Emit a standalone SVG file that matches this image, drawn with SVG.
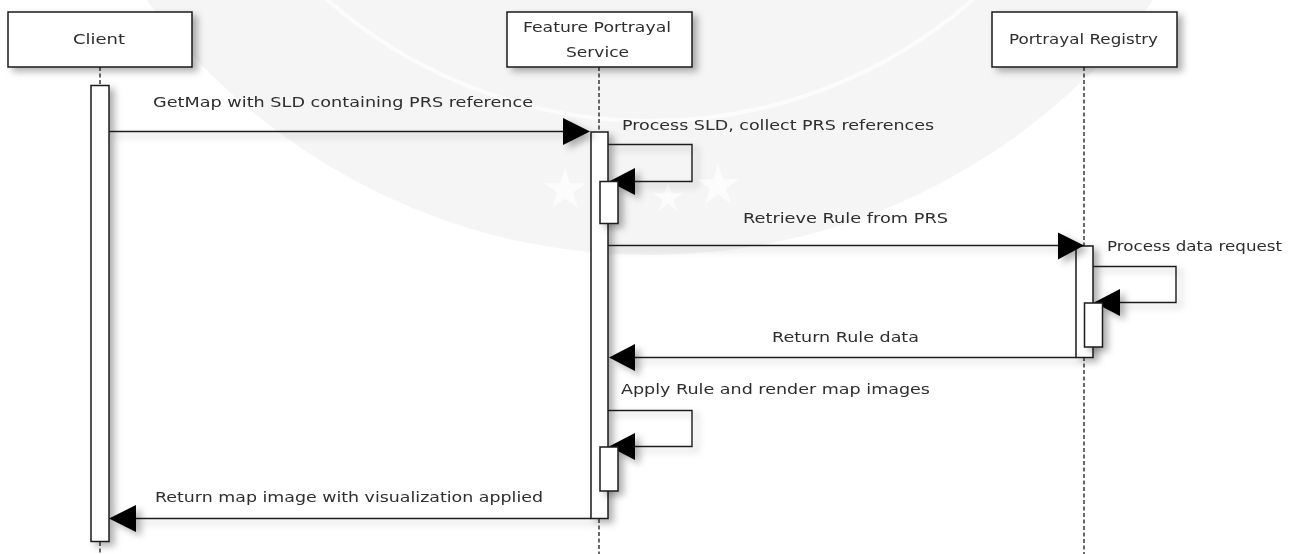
<svg xmlns="http://www.w3.org/2000/svg" width="1294" height="554" viewBox="0 0 1294 554">
<style>
.box,.act{fill:#fff;stroke:#1a1a1a;stroke-width:1.5;filter:url(#sh)}
.life{fill:none;stroke:#1a1a1a;stroke-width:1.3;stroke-dasharray:4 2.500}
.msg{fill:none;stroke:#1a1a1a;stroke-width:1.4;filter:url(#sh)}
.head{fill:#000;filter:url(#sh)}
text{font-family:"DejaVu Sans","Liberation Sans",sans-serif;font-size:14.500px;fill:#2e2e2e;filter:url(#soft)}
.star{fill:#fcfcfc}
</style>
<defs>
<filter id="sh" filterUnits="userSpaceOnUse" x="0" y="0" width="1294" height="554">
<feDropShadow dx="5" dy="4" stdDeviation="3.500" flood-color="#000" flood-opacity="0.3"/>
</filter>
<filter id="soft" filterUnits="userSpaceOnUse" x="0" y="0" width="1294" height="554">
<feGaussianBlur stdDeviation="0.35"/>
</filter>
<polygon id="st" points="0,-22 4.900,-6.800 20.900,-6.800 8,2.600 12.900,17.800 0,8.400 -12.900,17.800 -8,2.600 -20.900,-6.800 -4.900,-6.800"/>
</defs>
<rect width="1294" height="554" fill="#fff"/>
<g id="watermark">
<circle cx="650" cy="-369" r="624" fill="#f5f5f5"/>
<circle cx="650" cy="-369" r="490" fill="none" stroke="#fcfcfc" stroke-width="4"/>
<use href="#st" class="star" x="565" y="190"/>
<use href="#st" class="star" transform="translate(668 198) scale(0.7)"/>
<use href="#st" class="star" x="718" y="186"/>
</g>
<g id="lifelines">
<path class="life" d="M100 67V85M100 542V554"/>
<path class="life" d="M599 67V132M599 519V554"/>
<path class="life" d="M1084 67V246M1084 357V554"/>
</g>
<g id="client"><rect class="box" x="8" y="12" width="184" height="55"/><text x="73" y="44" textLength="52" lengthAdjust="spacingAndGlyphs">Client</text></g>
<g id="fps"><rect class="box" x="507" y="12" width="185" height="55"/><text x="523" y="32" textLength="148" lengthAdjust="spacingAndGlyphs">Feature Portrayal</text><text x="566" y="57" textLength="63" lengthAdjust="spacingAndGlyphs">Service</text></g>
<g id="registry"><rect class="box" x="992" y="12" width="185" height="55"/><text x="1009" y="44" textLength="149" lengthAdjust="spacingAndGlyphs">Portrayal Registry</text></g>
<g id="activations">
<rect class="act" x="91" y="85.500" width="18" height="456"/>
<rect class="act" x="591" y="132" width="17" height="386.500"/>
<rect class="act" x="1076" y="246" width="17" height="111.500"/>
</g>
<g id="connectors">
<path class="msg" d="M109 131.500H565"/>
<path class="head" d="M563 118L590 131.500L563 145Z"/>
<path class="msg" d="M608 144.500H692V181.500H634"/>
<path class="head" d="M635 168L609 181.500L635 195Z"/>
<path class="msg" d="M608 245.500H1060"/>
<path class="head" d="M1058 232.500L1084 245.500L1058 259.500Z"/>
<path class="msg" d="M1093 266.500H1176V302.500H1118"/>
<path class="head" d="M1120 289L1094 302.500L1120 316Z"/>
<path class="msg" d="M1076 357.500H634"/>
<path class="head" d="M635 344L609 357.500L635 371Z"/>
<path class="msg" d="M608 410.500H692V446.500H634"/>
<path class="head" d="M635 433L609 446.500L635 460Z"/>
<path class="msg" d="M591 518.500H135"/>
<path class="head" d="M136 505L109 518.500L136 532Z"/>
</g>
<g id="nested-activations">
<rect class="act" x="600" y="181.500" width="18" height="42"/>
<rect class="act" x="1084.500" y="303" width="18" height="44"/>
<rect class="act" x="600" y="447" width="18" height="44"/>
</g>
<g id="labels">
<text x="153" y="106.500" textLength="380" lengthAdjust="spacingAndGlyphs">GetMap with SLD containing PRS reference</text>
<text x="622" y="130" textLength="312" lengthAdjust="spacingAndGlyphs">Process SLD, collect PRS references</text>
<text x="743" y="223" textLength="205" lengthAdjust="spacingAndGlyphs">Retrieve Rule from PRS</text>
<text x="1107" y="251" textLength="175" lengthAdjust="spacingAndGlyphs">Process data request</text>
<text x="772" y="342" textLength="147" lengthAdjust="spacingAndGlyphs">Return Rule data</text>
<text x="621" y="394" textLength="309" lengthAdjust="spacingAndGlyphs">Apply Rule and render map images</text>
<text x="155" y="502" textLength="388" lengthAdjust="spacingAndGlyphs">Return map image with visualization applied</text>
</g>
</svg>
